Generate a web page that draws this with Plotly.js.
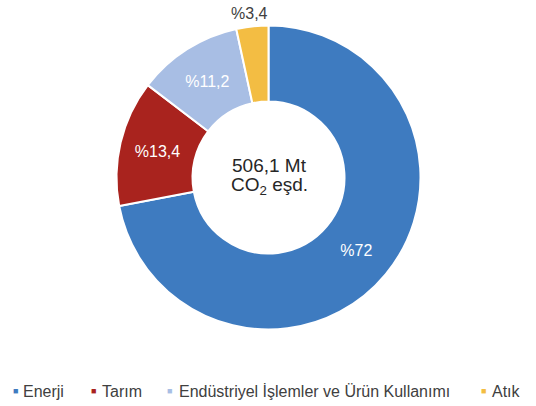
<!DOCTYPE html>
<html>
<head>
<meta charset="utf-8">
<script src="https://cdn.plot.ly/plotly-3.0.1.min.js"></script>
<style>
  html, body { margin: 0; padding: 0; background: #ffffff; overflow: hidden; }
  #chart { width: 536px; height: 406px; }
</style>
</head>
<body>
<div id="chart"></div>
<script>
// Sektörlere göre sera gazı emisyonu payları (%)
const categories = ['Enerji', 'Tarım', 'Endüstriyel İşlemler ve Ürün Kullanımı', 'Atık'];
const shares = [72, 13.4, 11.2, 3.4];
const colors = ['#3e7bc0', '#a9231e', '#a8bee4', '#f3bd43'];
// Küçük "Atık" dilimin etiketi halkanın dışında, dilimin hemen üstünde yazılıyor
const textPositions = ['inside', 'inside', 'inside', 'none'];
const totalLine1 = '506,1 Mt';
const totalLine2 = 'CO<sub>2</sub> eşd.';

const W = 536, H = 406;
const FONT = '"Liberation Sans", Arial, sans-serif';
const TEXT_DARK = '#404040';

// Etiketler: Türkçe yazımla yüzde işareti başta, ondalık ayırıcı virgül
const labelsText = shares.map(v => '%' + String(v).replace('.', ','));

// Halka merkezi ve yarıçapı (piksel)
const cx = 268.5, cy = 177.5, R = 152;
const px = x => x / W;
const py = y => 1 - y / H;

const trace = {
  type: 'pie',
  labels: categories,
  values: shares,
  text: labelsText,
  textinfo: 'text',
  textposition: textPositions,
  insidetextorientation: 'horizontal',
  sort: false,
  direction: 'clockwise',
  rotation: 0,
  hole: 0.5,
  marker: { colors: colors, line: { color: '#ffffff', width: 2 } },
  insidetextfont: { family: FONT, size: 16, color: '#ffffff' },
  domain: { x: [px(cx - R), px(cx + R)], y: [py(cy + R), py(cy - R)] },
  hoverinfo: 'none',
  showlegend: false
};

const annotations = [
  // Merkezdeki toplam değer
  { text: totalLine1, x: px(cx + 1), y: py(165), xref: 'paper', yref: 'paper',
    xanchor: 'center', yanchor: 'middle', showarrow: false,
    font: { family: FONT, size: 19, color: '#262626' } },
  { text: totalLine2, x: px(cx + 1), y: py(186), xref: 'paper', yref: 'paper',
    xanchor: 'center', yanchor: 'middle', showarrow: false,
    font: { family: FONT, size: 19, color: '#262626' } },
  // "Atık" payı, dilimin üstünde
  { text: labelsText[3], x: px(249), y: py(13.5), xref: 'paper', yref: 'paper',
    xanchor: 'center', yanchor: 'middle', showarrow: false,
    font: { family: FONT, size: 16, color: TEXT_DARK } }
];

// Alt kısımdaki gösterge: renkli kare + kategori adı
const legendMarkerX = [15, 93.5, 169, 483.5];
const legendTextX = [20.5, 100, 177, 490];
const legendY = 391;
categories.forEach((name, i) => {
  annotations.push({
    text: '■', x: px(legendMarkerX[i]), y: py(legendY - 0.5), xref: 'paper', yref: 'paper',
    xanchor: 'center', yanchor: 'middle', showarrow: false,
    font: { family: FONT, size: 9, color: colors[i] }
  });
  annotations.push({
    text: name, x: px(legendTextX[i]), y: py(legendY), xref: 'paper', yref: 'paper',
    xanchor: 'left', yanchor: 'middle', showarrow: false,
    font: { family: FONT, size: 16, color: TEXT_DARK }
  });
});

const layout = {
  width: W,
  height: H,
  margin: { l: 0, r: 0, t: 0, b: 0 },
  paper_bgcolor: '#ffffff',
  plot_bgcolor: '#ffffff',
  showlegend: false,
  font: { family: FONT, color: TEXT_DARK },
  annotations: annotations
};

Plotly.newPlot('chart', [trace], layout, { displayModeBar: false, staticPlot: true });
</script>
</body>
</html>
